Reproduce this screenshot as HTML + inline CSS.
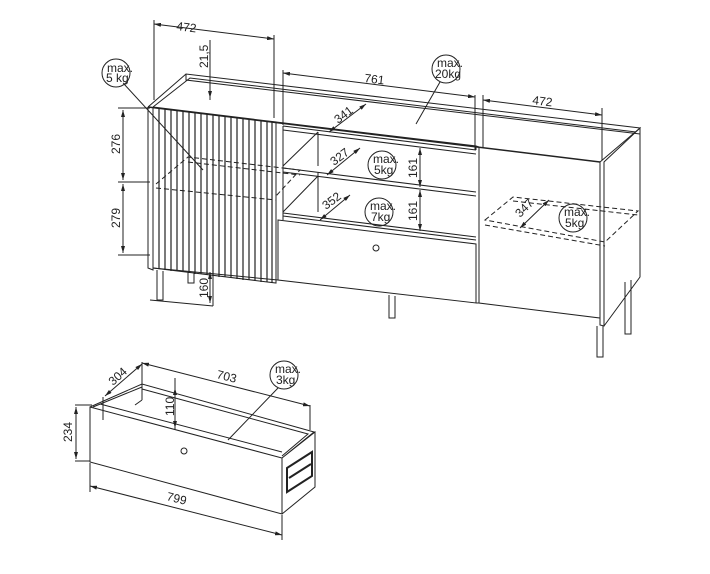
<!DOCTYPE html><html><head><style>body{margin:0;background:#fff}svg{display:block}text{font-family:"Liberation Sans",sans-serif;font-size:12px;fill:#222;stroke:none}</style></head><body>
<svg width="710" height="574" viewBox="0 0 710 574" stroke="#222" fill="none" stroke-width="1">
<defs><marker id="a" markerUnits="userSpaceOnUse" markerWidth="7" markerHeight="4" refX="7" refY="2" orient="auto-start-reverse"><path d="M0,0L7,2L0,4z" fill="#222" stroke="none"/></marker></defs>
<!-- cabinet top -->
<path d="M148,107 L186,74 L640,128 L600,162"/>
<path d="M153,107 L190,78 L636,132"/>
<path d="M186,74 L186,80 L640,134"/>
<path d="M148,107 L600,162" stroke-width="1.5"/>
<!-- left side -->
<path d="M148,107 L148,268 L153,270 L153,108"/>
<!-- left slatted door -->
<path d="M153,107 L276,122 L276,283 L153,268"/>
<g stroke-width="1.2">
<path d="M159,108V269M165,109V270M171,109V271M177,110V271M183,111V272M189,112V273M195,112V274M201,113V274M207,114V275M213,115V276M219,115V277M225,116V277M231,117V278M237,118V279M243,118V280M249,119V280M255,120V281M261,121V282M267,121V282M272,122V283"/>
</g>
<!-- left dashed shelf -->
<path d="M156,184 L188,157 L300,170 L276,196 M156,188 L276,200 M188,162 L300,175" stroke-dasharray="5,3"/>
<!-- middle section -->
<path d="M276,122 L476,146 L476,150 M283,126 L476,150 M283,126 L283,220"/>
<path d="M283,130 L476,154 M318,132 L318,166 M283,168 L476,192 M283,172 L476,196 M318,172 L318,212 M283,213 L476,237 M283,216 L476,240 M283,166 L318,132 M283,212 L318,176"/>
<path d="M278,220 L476,244 L476,303 L278,280 Z"/>
<circle cx="376" cy="248" r="3"/>
<!-- right door -->
<path d="M479,147 L479,303 L600,318 L600,162 M476,146 L479,147"/>
<path d="M600,162 L600,325 L604,326 L604,162 L640,128 L640,277 L604,326"/>
<path d="M485,220 L513,197 L638,211 L605,242 Z M485,225 L605,246 M513,201 L638,215" stroke-dasharray="5,3"/>
<!-- bottom -->
<path d="M153,268 L278,280 M476,303 L479,303"/>
<!-- legs -->
<path d="M157,270V300H163V271M188,272V283H194V273M389,295V318H395V296M597,326V357H603V326M625,282V334H631V280"/>
<!-- dims top-left -->
<path d="M154,20V100M274,35V118M210,40V100M118,108H150M118,182H150M118,255H150"/>
<path d="M154,24 L274,39" marker-start="url(#a)" marker-end="url(#a)"/>
<text transform="translate(176,30) rotate(7)">472</text>
<path d="M210,60V72M210,88V98" marker-end="url(#a)"/>
<text transform="translate(208,68) rotate(-90)">21,5</text>
<path d="M123,110V180" marker-start="url(#a)" marker-end="url(#a)"/>
<path d="M123,184V253" marker-start="url(#a)" marker-end="url(#a)"/>
<text transform="translate(120,154) rotate(-90)">276</text>
<text transform="translate(120,228) rotate(-90)">279</text>
<path d="M213,268V306" />
<path d="M150,300 L213,306"/>
<path d="M210,272V303" marker-start="url(#a)" marker-end="url(#a)"/>
<text transform="translate(208,298) rotate(-90)">160</text>
<circle cx="116" cy="73" r="14"/><text x="107" y="72" font-size="9">max.</text><text x="106" y="82" font-size="9">5 kg</text>
<path d="M124,84 L203,170"/>
<!-- 761 / 472 right -->
<path d="M283,70V125M475,95V150M483,95V148M602,108V160"/>
<path d="M283,73 L475,97" marker-start="url(#a)" marker-end="url(#a)"/>
<text transform="translate(364,82) rotate(7)">761</text>
<path d="M483,100 L602,115" marker-start="url(#a)" marker-end="url(#a)"/>
<text transform="translate(532,104) rotate(7)">472</text>
<circle cx="446" cy="69" r="14"/><text x="437" y="67" font-size="9">max.</text><text x="435" y="78" font-size="9">20kg</text>
<path d="M440,82 L416,124"/>
<path d="M329,132 L366,104" marker-start="url(#a)" marker-end="url(#a)"/>
<text transform="translate(338,124) rotate(-37)">341</text>
<path d="M327,175 L360,148" marker-start="url(#a)" marker-end="url(#a)"/>
<text transform="translate(334,166) rotate(-37)">327</text>
<path d="M320,220 L350,195" marker-start="url(#a)" marker-end="url(#a)"/>
<text transform="translate(326,210) rotate(-37)">352</text>
<circle cx="382" cy="165" r="14"/><text x="373" y="163" font-size="9">max.</text><text x="374" y="174" font-size="9">5kg</text>
<circle cx="379" cy="212" r="14"/><text x="370" y="210" font-size="9">max.</text><text x="371" y="221" font-size="9">7kg</text>
<path d="M420,148V187" marker-start="url(#a)" marker-end="url(#a)"/>
<path d="M420,190V231" marker-start="url(#a)" marker-end="url(#a)"/>
<text transform="translate(417,178) rotate(-90)">161</text>
<text transform="translate(417,221) rotate(-90)">161</text>
<path d="M520,228 L549,200" marker-start="url(#a)" marker-end="url(#a)"/>
<text transform="translate(520,218) rotate(-45)">347</text>
<circle cx="573" cy="218" r="14"/><text x="564" y="216" font-size="9">max.</text><text x="565" y="227" font-size="9">5kg</text>
<!-- drawer -->
<path d="M90,407 L282,458 L282,514 L90,462 Z"/>
<path d="M90,407 L142,384 L314,432 L282,458 M93,407 L142,387 M142,384 V400 M142,400 L135,405 M100,404 L282,452 M142,389 L308,434 L282,456 M282,458 L315,432 L315,487 L282,514"/>
<path d="M287,468 L312,452 V476 L287,492 Z M289,478 L311,464" stroke-width="2"/>
<circle cx="184" cy="451" r="3"/>
<path d="M103,397V420M142,362V384M310,405V430M75,405H92M75,461H90M90,463V492M282,515V540M175,378V430"/>
<path d="M105,396 L142,364" marker-start="url(#a)" marker-end="url(#a)"/>
<text transform="translate(113,386) rotate(-42)">304</text>
<path d="M142,363 L310,406" marker-start="url(#a)" marker-end="url(#a)"/>
<text transform="translate(216,378) rotate(14)">703</text>
<path d="M175,388V428" marker-start="url(#a)" marker-end="url(#a)"/>
<text transform="translate(174,416) rotate(-90)">110</text>
<path d="M76,407V459" marker-start="url(#a)" marker-end="url(#a)"/>
<text transform="translate(72,442) rotate(-90)">234</text>
<path d="M90,486 L282,535" marker-start="url(#a)" marker-end="url(#a)"/>
<text transform="translate(166,500) rotate(14)">799</text>
<circle cx="284" cy="375" r="14"/><text x="275" y="373" font-size="9">max.</text><text x="276" y="384" font-size="9">3kg</text>
<path d="M278,388 L228,440"/>
</svg></body></html>
